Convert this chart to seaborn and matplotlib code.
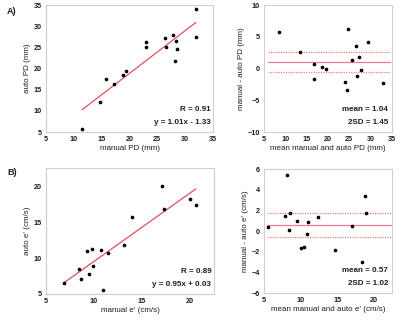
import numpy as np
import pandas as pd
import matplotlib
matplotlib.use("Agg")
import matplotlib.pyplot as plt
import seaborn as sns

# --- A) PD: manual vs auto (mm)
pd_manual = [11.5, 14.75, 15.8, 17.2, 18.75, 19.45, 23.05, 23.05, 26.3, 26.5,
             27.8, 28.1, 28.4, 28.5, 31.9, 31.9]
pd_auto = [5.8, 12.1, 17.5, 16.3, 18.4, 19.5, 26.3, 25.05, 27.3, 25.05,
           27.9, 21.7, 26.5, 24.7, 34.0, 27.4]
pd_slope, pd_icpt, pd_r = 1.01, -1.33, 0.91

# Bland-Altman PD
pd_ba_mean = [8.6, 13.45, 16.7, 16.7, 18.6, 19.45, 24.0, 24.5, 24.7, 25.6,
              26.5, 26.7, 27.35, 27.8, 29.45, 32.8]
pd_ba_diff = [5.7, 2.65, 0.8, -1.7, 0.25, -0.1, -2.05, -3.35, 6.3, 1.35,
              3.6, -1.15, 1.75, -0.2, 4.2, -2.2]
pd_mean_diff, pd_2sd = 1.04, 1.45
pd_upper, pd_lower = 2.55, -0.55

# --- B) e': manual vs auto (cm/s)
e_manual = [6.9, 8.45, 8.6, 9.3, 9.45, 9.8, 9.9, 10.75, 10.9, 11.5,
            13.15, 13.95, 17.05, 17.3, 19.95, 20.6]
e_auto = [6.55, 8.45, 7.1, 10.95, 7.75, 11.3, 8.95, 11.1, 5.55, 10.65,
          11.8, 15.75, 20.05, 16.85, 18.25, 17.3]
e_slope, e_icpt, e_r = 0.95, 0.03, 0.89

# Bland-Altman e'
e_ba_mean = [5.55, 7.85, 8.2, 8.45, 8.55, 9.45, 10.05, 10.5, 10.85, 11.05,
             12.4, 14.75, 17.05, 18.45, 18.85, 19.0]
e_ba_diff = [0.35, 1.5, 5.45, 0.1, 1.7, 1.0, -1.65, -1.55, -0.3, 0.85,
             1.35, -1.8, 0.5, -2.95, 3.4, 1.75]
e_mean_diff, e_2sd = 0.57, 1.02
e_upper, e_lower = 1.7, -0.55

sns.set_theme(style="white")
plt.rcParams['font.family'] = ['Liberation Sans', 'DejaVu Sans']
plt.rcParams['font.weight'] = 'bold'

fig = plt.figure(figsize=(4.0, 3.22), dpi=100)
ax_a1 = fig.add_axes([0.115, 0.590, 0.4175, 0.394])
ax_a2 = fig.add_axes([0.660, 0.590, 0.320, 0.394])
ax_b1 = fig.add_axes([0.115, 0.087, 0.420, 0.391])
ax_b2 = fig.add_axes([0.660, 0.090, 0.320, 0.385])

line_red = '#e2505e'
pink = '#f27a86'
txt_col = '#1e1e1e'


def style(ax, xlim, ylim, xt, yt, xlabel, ylabel):
    ax.set_xlim(*xlim)
    ax.set_ylim(*ylim)
    ax.set_xticks(xt)
    ax.set_yticks(yt)
    for s in ax.spines.values():
        s.set_color('#cfcfcf')
        s.set_linewidth(0.8)
    ax.tick_params(axis='both', direction='out', length=2, width=0.6,
                   color='#9a9a9a', labelsize=5.2, pad=1, labelcolor=txt_col)
    ax.set_xlabel(xlabel, fontsize=5.8, color=txt_col, labelpad=1.5)
    ax.set_ylabel(ylabel, fontsize=5.8, color=txt_col, labelpad=2)
    ax.grid(False)


def scatter_panel(ax, x, y, slope, icpt, r):
    sns.scatterplot(x=x, y=y, ax=ax, color='black', s=7, linewidth=0, zorder=3)
    xs = np.array([min(x), max(x)])
    sns.lineplot(x=xs, y=slope * xs + icpt, ax=ax, color=line_red, lw=0.9, zorder=2)
    sign = '+' if icpt >= 0 else '-'
    ax.text(0.985, 0.15, f'R = {r:.2f}', transform=ax.transAxes, ha='right',
            va='bottom', fontsize=5.8, color=txt_col, fontweight='bold')
    ax.text(0.985, 0.045, f'y = {slope:.2f}x {sign} {abs(icpt):.2f}',
            transform=ax.transAxes, ha='right', va='bottom', fontsize=5.8,
            color=txt_col, fontweight='bold')


def ba_panel(ax, m, d, mean_d, sd2, upper, lower, x0, x1):
    sns.scatterplot(x=m, y=d, ax=ax, color='black', s=7, linewidth=0, zorder=3)
    ax.plot([x0, x1], [mean_d, mean_d], color=pink, lw=0.9, zorder=2)
    ax.plot([x0, x1], [upper, upper], color=pink, lw=0.9, ls=(0, (1, 1)), zorder=2)
    ax.plot([x0, x1], [lower, lower], color=pink, lw=0.9, ls=(0, (1, 1)), zorder=2)
    ax.text(0.97, 0.15, f'mean = {mean_d:.2f}', transform=ax.transAxes, ha='right',
            va='bottom', fontsize=5.8, color=txt_col, fontweight='bold')
    ax.text(0.97, 0.045, f'2SD = {sd2:.2f}', transform=ax.transAxes, ha='right',
            va='bottom', fontsize=5.8, color=txt_col, fontweight='bold')


scatter_panel(ax_a1, pd_manual, pd_auto, pd_slope, pd_icpt, pd_r)
style(ax_a1, (5, 35), (5, 35), range(5, 36, 5), range(5, 36, 5),
      'manual PD (mm)', 'auto PD (mm)')

ba_panel(ax_a2, pd_ba_mean, pd_ba_diff, pd_mean_diff, pd_2sd, pd_upper, pd_lower, 6, 34.5)
style(ax_a2, (5, 35), (-10, 10), range(5, 36, 5), range(-10, 11, 5),
      'mean manual and auto PD (mm)', 'manual - auto PD (mm)')

scatter_panel(ax_b1, e_manual, e_auto, e_slope, e_icpt, e_r)
style(ax_b1, (5, 22.5), (5, 22.5), range(5, 21, 5), range(5, 21, 5),
      "manual e' (cm/s)", "auto e' (cm/s)")

ba_panel(ax_b2, e_ba_mean, e_ba_diff, e_mean_diff, e_2sd, e_upper, e_lower, 5.4, 22.3)
style(ax_b2, (5, 22.5), (-6, 6), range(5, 21, 5), range(-6, 7, 2),
      "mean manual and auto e' (cm/s)", "manual - auto e' (cm/s)")

fig.text(0.018, 0.955, 'A)', fontsize=6.5, fontweight='bold', color=txt_col)
fig.text(0.018, 0.455, 'B)', fontsize=6.5, fontweight='bold', color=txt_col)

fig.savefig('out.png', dpi=100)
